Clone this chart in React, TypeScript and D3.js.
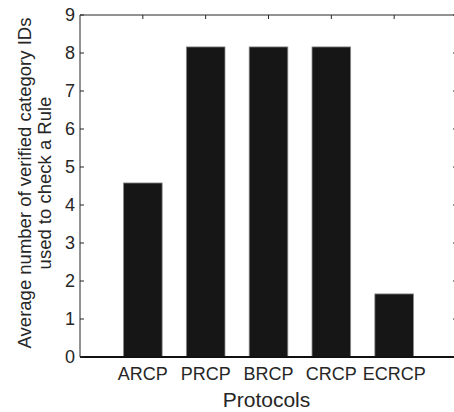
import React, { useEffect, useRef } from "react";
import * as d3 from "d3";

const protocols = ["ARCP", "PRCP", "BRCP", "CRCP", "ECRCP"];
const avgVerifiedIds = [4.58, 8.16, 8.16, 8.16, 1.66];
const yTicks = [0, 1, 2, 3, 4, 5, 6, 7, 8, 9];

export default function App() {
  const ref = useRef<SVGSVGElement>(null);

  useEffect(() => {
    const width = 454;
    const height = 412;
    const margin = { top: 15, right: -3, bottom: 55, left: 80 };
    const svg = d3.select(ref.current).attr("width", width).attr("height", height);
    svg.selectAll("*").remove();

    const font = "Arial, 'Liberation Sans', Helvetica, sans-serif";

    // scales: categories sit at 1..5 on a 0..6 axis (matlab style)
    const x = d3.scaleLinear().domain([0, protocols.length + 1]).range([margin.left, width - margin.right]);
    const y = d3.scaleLinear().domain([0, 9]).range([height - margin.bottom, margin.top]);
    const barW = x(0.615) - x(0);

    const g = svg.append("g");

    // bars
    g.selectAll("rect.bar")
      .data(avgVerifiedIds)
      .join("rect")
      .attr("class", "bar")
      .attr("x", (d, i) => x(i + 1) - barW / 2)
      .attr("y", d => y(d))
      .attr("width", barW)
      .attr("height", d => y(0) - y(d))
      .attr("fill", "#161616")
      .attr("stroke", "#8c8c8c")
      .attr("stroke-width", 0.8);

    // box
    const x0 = x(0), x1 = x(protocols.length + 1), y0 = y(0), y1 = y(9);
    g.append("line").attr("x1", x0).attr("x2", x1).attr("y1", y1).attr("y2", y1).attr("stroke", "#262626").attr("stroke-width", 1);
    g.append("line").attr("x1", x0).attr("x2", x0).attr("y1", y0).attr("y2", y1).attr("stroke", "#262626").attr("stroke-width", 1);
    g.append("line").attr("x1", x1).attr("x2", x1).attr("y1", y0).attr("y2", y1).attr("stroke", "#262626").attr("stroke-width", 1);
    g.append("line").attr("x1", x0).attr("x2", x1).attr("y1", y0).attr("y2", y0).attr("stroke", "#111").attr("stroke-width", 2);

    // y ticks (inward, both sides)
    yTicks.forEach(t => {
      g.append("line").attr("x1", x0).attr("x2", x0 + 4).attr("y1", y(t)).attr("y2", y(t)).attr("stroke", "#262626");
      g.append("line").attr("x1", x1).attr("x2", x1 - 4).attr("y1", y(t)).attr("y2", y(t)).attr("stroke", "#262626");
      g.append("text")
        .attr("x", x0 - 5)
        .attr("y", y(t))
        .attr("dy", "0.36em")
        .attr("text-anchor", "end")
        .style("font-family", font)
        .style("font-size", "18px")
        .attr("fill", "#262626")
        .text(t);
    });

    // x ticks (inward, top and bottom) + labels
    protocols.forEach((p, i) => {
      const cx = x(i + 1);
      g.append("line").attr("x1", cx).attr("x2", cx).attr("y1", y1).attr("y2", y1 + 4).attr("stroke", "#262626");
      g.append("text")
        .attr("x", cx)
        .attr("y", y0 + 23)
        .attr("text-anchor", "middle")
        .style("font-family", font)
        .style("font-size", "18px")
        .attr("fill", "#262626")
        .text(p);
    });

    // axis labels
    g.append("text")
      .attr("x", (x0 + 457) / 2 - 2)
      .attr("y", 407)
      .attr("text-anchor", "middle")
      .style("font-family", font)
      .style("font-size", "21px")
      .attr("fill", "#262626")
      .text("Protocols");

    const yl = g.append("text")
      .attr("transform", `translate(31,${(y0 + y1) / 2 - 3}) rotate(-90)`)
      .attr("text-anchor", "middle")
      .style("font-family", font)
      .style("font-size", "18.5px")
      .attr("fill", "#262626");
    yl.append("tspan").attr("x", 0).attr("dy", 0).text("Average number of verified category IDs");
    yl.append("tspan").attr("x", 0).attr("dy", "1.1em").text("used to check a Rule");
  }, []);

  return <svg ref={ref} style={{ position: "absolute", left: 0, top: 0 }} />;
}
